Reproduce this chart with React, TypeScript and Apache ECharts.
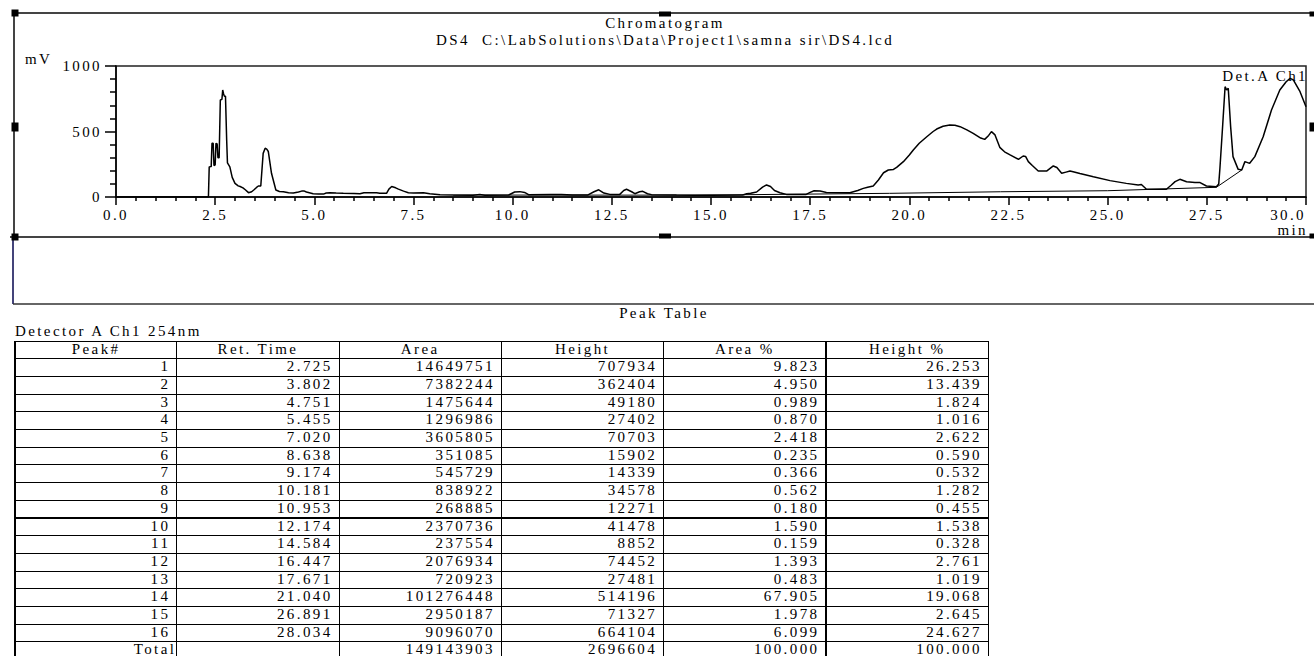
import React, { useEffect, useRef } from "react";
import * as echarts from "echarts";

// ---- Chromatogram trace (min, mV) ----
const traceTime = [
  0, 2.33, 2.35, 2.4, 2.42, 2.45, 2.47, 2.5, 2.52, 2.55, 2.57, 2.6, 2.63, 2.67, 2.69, 2.71, 2.73, 2.76, 2.79, 2.81,
  2.87, 2.93, 3.0, 3.08, 3.13, 3.2, 3.26, 3.34, 3.42, 3.48, 3.55, 3.59, 3.65, 3.71, 3.76, 3.8, 3.84, 3.92, 4.03, 4.12,
  4.22, 4.35, 4.47, 4.6, 4.68, 4.75, 4.8, 4.97, 5.1, 5.23, 5.3, 5.39, 5.55, 5.73, 6.0, 6.15, 6.25, 6.45, 6.57, 6.65,
  6.82, 6.88, 6.95, 7.05, 7.12, 7.25, 7.37, 7.5, 7.75, 7.91, 8.17, 8.5, 9.0, 9.17, 9.3, 9.9, 10.05, 10.18, 10.3, 10.4,
  10.95, 11.23, 11.5, 11.9, 12.05, 12.17, 12.3, 12.45, 12.7, 12.8, 12.87, 13.0, 13.08, 13.2, 13.28, 13.4, 13.5, 14.13, 14.58, 15.0,
  15.8, 15.9, 16.0, 16.06, 16.15, 16.3, 16.4, 16.5, 16.6, 16.74, 16.9, 17.4, 17.5, 17.6, 17.75, 17.91, 18.5, 18.7, 18.84, 18.95,
  19.09, 19.22, 19.35, 19.47, 19.6, 19.68, 19.85, 20.0, 20.1, 20.25, 20.44, 20.6, 20.69, 20.85, 21.02, 21.15, 21.28, 21.45, 21.61, 21.8,
  21.9, 22.0, 22.07, 22.16, 22.28, 22.4, 22.54, 22.75, 22.87, 22.93, 23.0, 23.1, 23.25, 23.46, 23.63, 23.72, 23.84, 23.95, 24.05, 24.13,
  24.3, 24.64, 25.06, 25.47, 25.77, 25.85, 25.98, 26.4, 26.48, 26.6, 26.7, 26.82, 26.99, 27.2, 27.33, 27.49, 27.74, 27.8, 27.83, 27.9,
  27.96, 28.0, 28.04, 28.1, 28.16, 28.29, 28.38, 28.46, 28.58, 28.71, 28.92, 29.13, 29.34, 29.5, 29.6, 29.68, 29.85, 30.0,
];
const traceMV = [
  0, 0, 230, 232, 410, 410, 240, 245, 410, 405, 300, 300, 740, 745, 817, 790, 770, 770, 435, 260,
  230, 150, 104, 85, 80, 70, 55, 33, 40, 55, 75, 84, 84, 333, 372, 365, 347, 181, 53, 42,
  40, 33, 30, 38, 45, 45, 38, 25, 22, 22, 30, 32, 30, 28, 26, 25, 32, 33, 32, 28,
  28, 60, 80, 70, 60, 45, 33, 30, 33, 25, 18, 15, 14, 20, 14, 15, 38, 41, 35, 18,
  20, 20, 16, 16, 40, 55, 30, 20, 20, 50, 59, 40, 25, 40, 43, 25, 18, 15, 14, 14,
  15, 25, 28, 33, 38, 75, 92, 80, 50, 32, 20, 20, 35, 48, 45, 35, 33, 50, 66, 75,
  84, 130, 185, 206, 210, 226, 270, 320, 359, 410, 460, 500, 519, 540, 550, 548, 537, 512, 486, 450,
  440, 470, 499, 474, 379, 345, 321, 288, 313, 310, 270, 240, 198, 198, 237, 225, 181, 190, 198, 193,
  180, 155, 125, 104, 92, 95, 59, 59, 59, 90, 117, 135, 117, 110, 110, 84, 79, 100, 219, 550,
  842, 817, 830, 537, 308, 211, 206, 270, 257, 308, 460, 664, 817, 880, 906, 894, 804, 689,
];

// ---- Integration baseline (min, mV) ----
const baseTime = [8.5, 14.6, 19.5, 22.3, 25.0, 27.74, 28.38];
const baseMV = [15, 14, 28, 40, 48, 74, 206];

// ---- Axis ticks ----
const xMin = 0, xMax = 30, xStep = 2.5;
const yMin = 0, yMax = 1000, yStep = 500;

// ---- Peak table ----
const tableHeaders = ["Peak#", "Ret. Time", "Area", "Height", "Area %", "Height %"];
const peakNo = ["1", "2", "3", "4", "5", "6", "7", "8", "9", "10", "11", "12", "13", "14", "15", "16"];
const retTime = [2.725, 3.802, 4.751, 5.455, 7.02, 8.638, 9.174, 10.181, 10.953, 12.174, 14.584, 16.447, 17.671, 21.04, 26.891, 28.034];
const peakArea = [14649751, 7382244, 1475644, 1296986, 3605805, 351085, 545729, 838922, 268885, 2370736, 237554, 2076934, 720923, 101276448, 2950187, 9096070];
const peakHeight = [707934, 362404, 49180, 27402, 70703, 15902, 14339, 34578, 12271, 41478, 8852, 74452, 27481, 514196, 71327, 664104];
const areaPct = [9.823, 4.95, 0.989, 0.87, 2.418, 0.235, 0.366, 0.562, 0.18, 1.59, 0.159, 1.393, 0.483, 67.905, 1.978, 6.099];
const heightPct = [26.253, 13.439, 1.824, 1.016, 2.622, 0.59, 0.532, 1.282, 0.455, 1.538, 0.328, 2.761, 1.019, 19.068, 2.645, 24.627];
const totalLabel = "Total";
const totalArea = 149143903;
const totalHeight = 2696604;
const totalAreaPct = 100.0;
const totalHeightPct = 100.0;

const FONT = "'Liberation Serif', 'Times New Roman', 'DejaVu Serif', serif";
const LS = 2.4;

function handle(x: number, y: number, w: number, h: number) {
  return { type: "rect", silent: true, shape: { x: x - w / 2, y: y - h / 2, width: w, height: h }, style: { fill: "#000" } };
}
function hline(x1: number, x2: number, y: number, w: number, c: string) {
  return { type: "line", silent: true, shape: { x1, y1: y, x2, y2: y }, style: { stroke: c, lineWidth: w } };
}
function vline(x: number, y1: number, y2: number, w: number, c: string) {
  return { type: "line", silent: true, shape: { x1: x, y1, x2: x, y2 }, style: { stroke: c, lineWidth: w } };
}

export default function App() {
  const ref = useRef<HTMLDivElement>(null);

  useEffect(() => {
    document.body.style.margin = "0";
    document.body.style.overflow = "hidden";
    const chart = echarts.init(ref.current!, null, { renderer: "svg" });
    const txt = { fontFamily: FONT, fontSize: 15, color: "#000" };
    chart.setOption({
      animation: false,
      grid: { left: 116, top: 66, width: 1190, height: 131, show: true, borderColor: "#222", borderWidth: 1.5, backgroundColor: "transparent" },
      xAxis: {
        type: "value", min: xMin, max: xMax, interval: xStep,
        axisLine: { show: true, onZero: false, lineStyle: { color: "#000", width: 1.5 } },
        axisTick: { show: true, length: 8, lineStyle: { color: "#000", width: 1.5 } },
        minorTick: { show: true, splitNumber: 5, length: 4, lineStyle: { color: "#000", width: 1.5 } },
        axisLabel: { ...txt, margin: 10, alignMaxLabel: "right", formatter: (v: number) => v.toFixed(1) },
        splitLine: { show: false },
      },
      yAxis: {
        type: "value", min: yMin, max: yMax, interval: yStep,
        axisLine: { show: true, onZero: false, lineStyle: { color: "#000", width: 1.5 } },
        axisTick: { show: true, length: 11, lineStyle: { color: "#000", width: 1.5 } },
        minorTick: { show: true, splitNumber: 5, length: 6, lineStyle: { color: "#000", width: 1.5 } },
        axisLabel: { ...txt, margin: 14, formatter: (v: number) => String(v) },
        splitLine: { show: false },
      },
      series: [
        {
          name: "Det.A Ch1", type: "line", symbol: "none", showSymbol: false,
          data: traceTime.map((t, i) => [t, traceMV[i]]),
          lineStyle: { color: "#000", width: 1.5 }, z: 3,
        },
        {
          name: "Baseline", type: "line", symbol: "none", showSymbol: false,
          data: baseTime.map((t, i) => [t, baseMV[i]]),
          lineStyle: { color: "#000", width: 1 }, z: 2,
        },
      ],
      graphic: [
        hline(14, 1314, 13, 2, "#444"),
        vline(14, 13, 237, 2, "#444"),
        hline(10, 1314, 237, 2, "#444"),
        vline(13, 237, 304, 2, "#44447a"),
        hline(13, 1314, 304, 1.5, "#333"),
        handle(15, 13, 7, 7), handle(15, 127, 7, 9), handle(15, 237, 7, 7),
        handle(665, 14, 12, 5), handle(665, 236, 12, 5),
        handle(1312, 14, 5, 5), handle(1312, 127, 5, 9), handle(1312, 236, 5, 5),
        { type: "text", silent: true, x: 665, y: 23, style: { text: "Chromatogram", font: `15px ${FONT}`, fill: "#000", textAlign: "center", textVerticalAlign: "middle" } },
        { type: "text", silent: true, x: 665, y: 40, style: { text: "DS4  C:\\LabSolutions\\Data\\Project1\\samna sir\\DS4.lcd", font: `15px ${FONT}`, fill: "#000", textAlign: "center", textVerticalAlign: "middle" } },
        { type: "text", silent: true, x: 25, y: 59, style: { text: "mV", font: `15px ${FONT}`, fill: "#000", textAlign: "left", textVerticalAlign: "middle" } },
        { type: "text", silent: true, x: 1308, y: 230, style: { text: "min", font: `15px ${FONT}`, fill: "#000", textAlign: "right", textVerticalAlign: "middle" } },
        { type: "text", silent: true, x: 1308, y: 76, style: { text: "Det.A Ch1", font: `15px ${FONT}`, fill: "#000", textAlign: "right", textVerticalAlign: "middle" } },
      ],
    });
    return () => chart.dispose();
  }, []);

  const rows: string[][] = peakNo.map((p, i) => [
    p,
    retTime[i].toFixed(3),
    String(peakArea[i]),
    String(peakHeight[i]),
    areaPct[i].toFixed(3),
    heightPct[i].toFixed(3),
  ]);
  rows.push([totalLabel, "", String(totalArea), String(totalHeight), totalAreaPct.toFixed(3), totalHeightPct.toFixed(3)]);

  const tLeft = 14, tTop = 340.5, colW = 162.3, rowH = 17.7;
  const cellBase: React.CSSProperties = {
    position: "absolute", boxSizing: "border-box", height: rowH + 1, width: colW + 1,
    borderTop: "1px solid #000", borderLeft: "1px solid #000", borderRight: "1px solid #000", borderBottom: "1px solid #000",
    fontFamily: FONT, fontSize: 15, letterSpacing: LS, lineHeight: `${rowH - 2}px`, color: "#000", whiteSpace: "nowrap", overflow: "hidden",
  };

  const cells: React.ReactNode[] = [];
  tableHeaders.forEach((h, j) => {
    cells.push(
      <div key={`h${j}`} style={{ ...cellBase, left: tLeft + j * colW, top: tTop, textAlign: "center", borderLeft: j === 0 ? "2px solid #000" : cellBase.borderLeft }}>{h}</div>
    );
  });
  rows.forEach((r, i) => {
    r.forEach((c, j) => {
      cells.push(
        <div key={`c${i}_${j}`} style={{ ...cellBase, left: tLeft + j * colW, top: tTop + (i + 1) * rowH, textAlign: "right", paddingRight: j === 0 && i === rows.length - 1 ? 0 : 6, borderLeft: j === 0 ? "2px solid #000" : cellBase.borderLeft }}>{c}</div>
      );
    });
  });

  return (
    <div style={{ position: "absolute", left: 0, top: 0, width: 1314, height: 656, background: "#fff", overflow: "hidden" }}>
      <style>{`.chromo text { letter-spacing: ${LS}px; }`}</style>
      <div className="chromo" ref={ref} style={{ position: "absolute", left: 0, top: 0, width: 1314, height: 310 }} />
      <div style={{ position: "absolute", left: 0, width: 1328, top: 304, textAlign: "center", fontFamily: FONT, fontSize: 15, letterSpacing: LS, lineHeight: "18px" }}>Peak Table</div>
      <div style={{ position: "absolute", left: 15, top: 322, fontFamily: FONT, fontSize: 15, letterSpacing: LS, lineHeight: "18px", whiteSpace: "nowrap" }}>Detector A Ch1 254nm</div>
      {cells}
    </div>
  );
}
